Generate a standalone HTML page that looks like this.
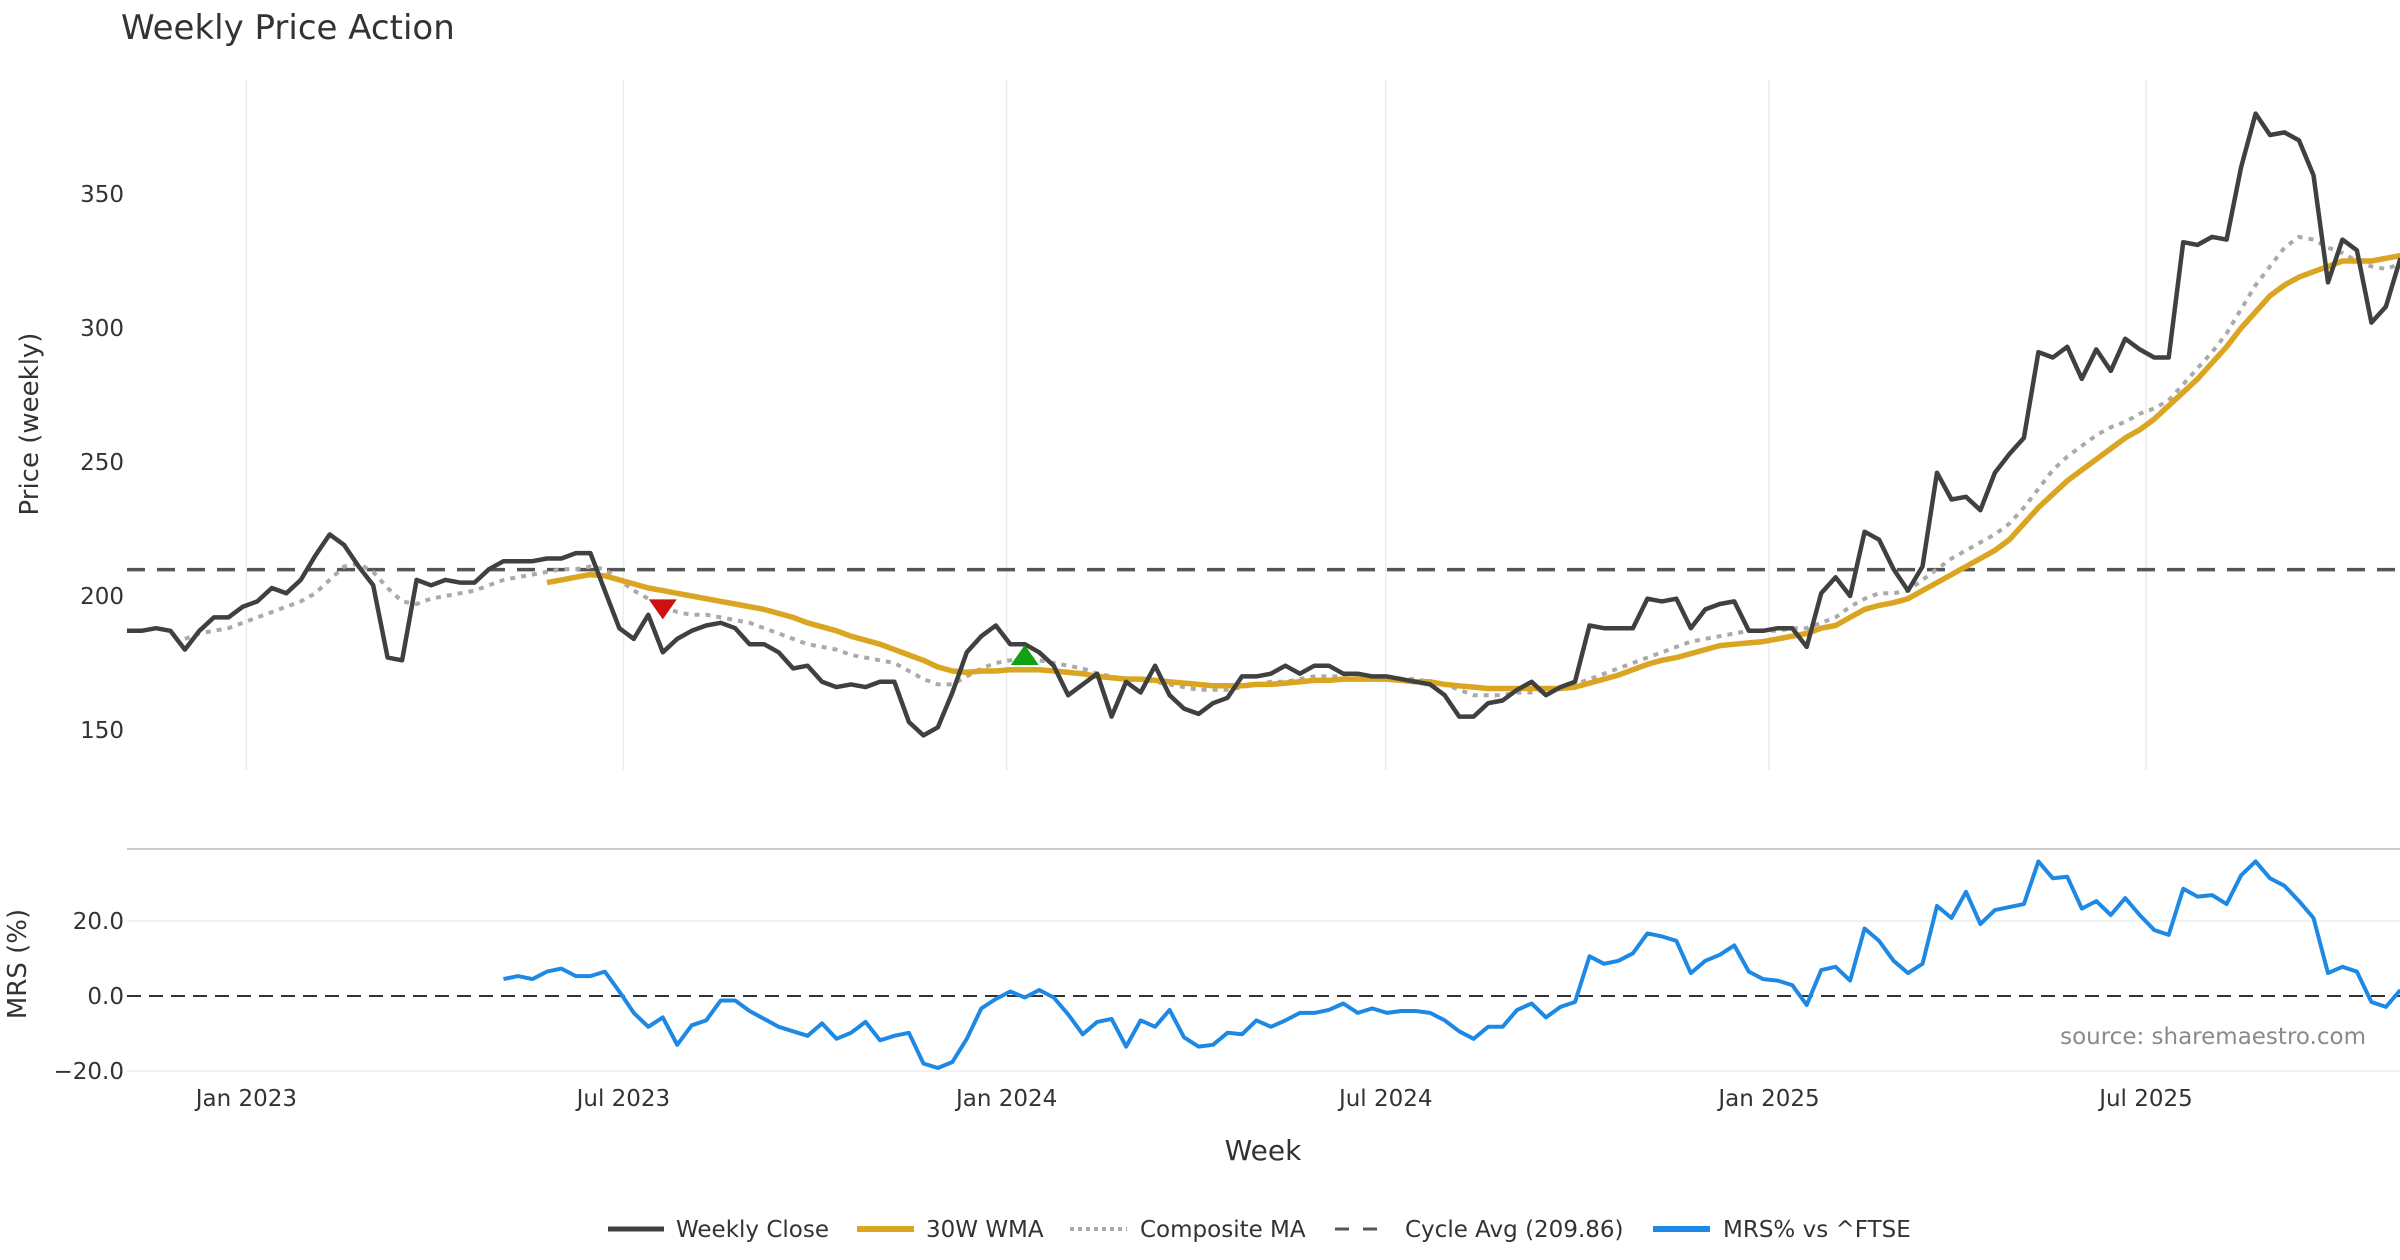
<!DOCTYPE html>
<html><head><meta charset="utf-8"><style>
html,body{margin:0;padding:0;background:#fff;}
svg{display:block;font-family:"DejaVu Sans","Liberation Sans",sans-serif;}
</style></head><body>
<svg id="chart" width="2400" height="1260" viewBox="0 0 2400 1260" xmlns="http://www.w3.org/2000/svg">
<text x="121" y="39" font-size="34" fill="#333">Weekly Price Action</text>
<g id="grid"></g><g id="price"></g><g id="mrs"></g><g id="axes"></g>
<text transform="translate(38,424) rotate(-90)" text-anchor="middle" font-size="26" fill="#333">Price (weekly)</text>
<text transform="translate(26,964) rotate(-90)" text-anchor="middle" font-size="26" fill="#333">MRS (%)</text>
<text x="1263" y="1160" text-anchor="middle" font-size="28" fill="#333">Week</text>
<text x="2366" y="1044" text-anchor="end" font-size="23" fill="#8a8a8a">source: sharemaestro.com</text>
<g id="legend">
 <g><line x1="608" y1="1229" x2="664" y2="1229" stroke="#404040" stroke-width="5"/><text x="676" y="1237" font-size="23" fill="#333">Weekly Close</text></g>
 <g><line x1="857" y1="1229" x2="914" y2="1229" stroke="#DAA520" stroke-width="6"/><text x="926" y="1237" font-size="23" fill="#333">30W WMA</text></g>
 <g><line x1="1070" y1="1229" x2="1127" y2="1229" stroke="#aaa" stroke-width="4" stroke-dasharray="4,4"/><text x="1140" y="1237" font-size="23" fill="#333">Composite MA</text></g>
 <g><line x1="1335" y1="1229" x2="1391" y2="1229" stroke="#555" stroke-width="3" stroke-dasharray="14,14"/><text x="1405" y="1237" font-size="23" fill="#333">Cycle Avg (209.86)</text></g>
 <g><line x1="1653" y1="1229" x2="1710" y2="1229" stroke="#1E88E5" stroke-width="6"/><text x="1723" y="1237" font-size="23" fill="#333">MRS% vs ^FTSE</text></g>
</g>
</svg>
<script>
const close=[187,187,188,187,180,187,192,192,196,198,203,201,206,215,223,219,211,204,177,176,206,204,206,205,205,210,213,213,213,214,214,216,216,202,188,184,193,179,184,187,189,190,188,182,182,179,173,174,168,166,167,166,168,168,153,148,151,164,179,185,189,182,182,179,174,163,167,171,155,168,164,174,163,158,156,160,162,170,170,171,174,171,174,174,171,171,170,170,169,168,167,163,155,155,160,161,165,168,163,166,168,189,188,188,188,199,198,199,188,195,197,198,187,187,188,188,181,201,207,200,224,221,210,202,211,246,236,237,232,246,253,259,291,289,293,281,292,284,296,292,289,289,332,331,334,333,360,380,372,373,370,357,317,333,329,302,308,326];
const wma=[205,206,207,208,207.5,206,204.5,203,202,201,200,199,198,197,196,195,193.5,192,190,188.5,187,185,183.5,182,180,178,176,173.5,172,171.5,172,172,172.5,172.5,172.5,172,171.5,171,170,169.5,169,169,168.5,168,167.5,167,166.5,166.5,166.5,167,167,167.5,168,168.5,168.5,169,169,169,169,168.5,168,168,167,166.5,166,165.5,165.5,165.5,165.5,165.5,165.5,166,167.5,169,170.5,172.5,174.5,176,177,178.5,180,181.5,182,182.5,183,184,185,186,188,189,192,195,196.5,197.5,199,202,205,208,211,214,217,221,227,233,238,243,247,251,255,259,262,266,271,276,281,287,293,300,306,312,316,319,321,323,325,325,325,326,327];
const composite=[184,186,187,188,190,192,194,196,198,201,206,211,212,209,203,198,197,199,200,201,202,204,206,207,208,209,210,210,211,210,206,202,199,196,194,193,193,192,191,190,188,186,184,182,181,180,178,177,176,175,172,169,167,167,170,173,175,176,177,176,175,174,173,171,170,169,169,168,167,166,165,165,165,166,167,168,168,169,170,170,170,170,170,169,169,169,168,167,165,163,163,163,164,164,165,166,167,169,171,173,175,177,179,181,183,184,185,186,187,187,187,188,188,190,192,196,199,201,201,202,206,210,214,217,220,223,227,233,240,247,252,256,260,263,265,268,270,273,279,285,291,298,307,316,323,330,334,333,330,328,325,323,322,324];
const mrs=[4.5,5.3,4.5,6.5,7.3,5.3,5.3,6.5,1.2,-4.5,-8.2,-5.7,-13,-7.8,-6.5,-1.2,-1.2,-4,-6.1,-8.2,-9.4,-10.6,-7.3,-11.4,-9.8,-6.9,-11.8,-10.6,-9.8,-18,-19.2,-17.6,-11.4,-3.3,-0.8,1.2,-0.4,1.6,-0.4,-4.9,-10.2,-6.9,-6.1,-13.5,-6.5,-8.2,-3.7,-11,-13.5,-13,-9.8,-10.2,-6.5,-8.2,-6.5,-4.5,-4.5,-3.7,-2,-4.5,-3.3,-4.5,-4,-4,-4.5,-6.5,-9.4,-11.4,-8.2,-8.2,-3.7,-2,-5.7,-2.9,-1.6,10.6,8.6,9.4,11.4,16.7,15.9,14.7,6.1,9.4,11,13.5,6.5,4.5,4.1,2.9,-2.4,6.9,7.8,4.1,18,14.7,9.4,6.1,8.6,24,20.8,27.8,19.2,22.9,23.7,24.5,35.9,31.4,31.8,23.3,25.3,21.6,26.1,21.6,17.6,16.3,28.6,26.5,26.9,24.5,32.2,35.9,31.4,29.4,25.3,20.8,6.1,7.8,6.5,-1.6,-2.9,1.6];
const cycleAvg=209.86;
const priceTicks=[150,200,250,300,350];
const mrsTicks=[-20,0,20];
const mrsTickLabels=["\u221220.0","0.0","20.0"];
const dateTicks=["2023-01-01","2023-07-01","2024-01-01","2024-07-01","2025-01-01","2025-07-01"];
const dateTickLabels=["Jan 2023","Jul 2023","Jan 2024","Jul 2024","Jan 2025","Jul 2025"];
const sellSignal=[37,195];
const buySignal=[62,178];

const NS="http://www.w3.org/2000/svg";
const X0=127,STEP=14.48;
const N=close.length;
const x=i=>X0+i*STEP;
const yP=v=>730-(v-150)*2.68;
const yM=v=>996-v*3.75;
const DAY0=new Date("2023-01-01");
const xDate=d=>246.4+((new Date(d)-DAY0)/864e5)*(1899.6/912);
function mk(parent,tag,attrs){const e=document.createElementNS(NS,tag);for(const k in attrs)e.setAttribute(k,attrs[k]);document.getElementById(parent).appendChild(e);return e;}
function pts(arr,off,yf){return arr.map((v,k)=>x(k+off).toFixed(1)+","+yf(v).toFixed(1)).join(" ");}

dateTicks.forEach((d,k)=>{const xx=xDate(d);
 let g=mk("grid","line",{x1:xx,x2:xx,y1:80,y2:770,stroke:"#e8ecef","stroke-width":1.5});
 
 
 let t=mk("axes","text",{x:xx,y:1106,"text-anchor":"middle","font-size":23,fill:"#333"});t.textContent=dateTickLabels[k];
 
 
});
priceTicks.forEach(v=>{let t=mk("axes","text",{x:124,y:yP(v)+8,"text-anchor":"end","font-size":23,fill:"#333"});t.textContent=v;
 
 });
let sep=mk("grid","line",{x1:127,x2:2400,y1:849,y2:849,stroke:"#ccc","stroke-width":2});


mrsTicks.forEach((v,k)=>{
 if(v!==0){let g=mk("grid","line",{x1:127,x2:2400,y1:yM(v),y2:yM(v),stroke:"#eceff1","stroke-width":1.5});
 
 }
 let t=mk("axes","text",{x:124,y:yM(v)+8,"text-anchor":"end","font-size":23,fill:"#333"});t.textContent=mrsTickLabels[k];
 
 
});
let z=mk("mrs","line",{x1:127,x2:2400,y1:yM(0),y2:yM(0),stroke:"#333","stroke-width":2,"stroke-dasharray":"14,8"});



let ca=mk("price","line",{x1:127,x2:2400,y1:yP(cycleAvg),y2:yP(cycleAvg),stroke:"#555","stroke-width":3.5,"stroke-dasharray":"18,12"});


let cm=mk("price","polyline",{points:pts(composite,N-composite.length,yP),fill:"none",stroke:"#aaa","stroke-width":4,"stroke-dasharray":"5,6"});


let wl=mk("price","polyline",{points:pts(wma,N-wma.length,yP),fill:"none",stroke:"#DAA520","stroke-width":5.5,"stroke-linejoin":"round"});


let cl=mk("price","polyline",{points:pts(close,0,yP),fill:"none",stroke:"#404040","stroke-width":4.5,"stroke-linejoin":"round"});


{const sx=x(sellSignal[0]),sy=yP(sellSignal[1]);
 let s=mk("price","polygon",{points:`${sx-14},${sy-10} ${sx+14},${sy-10} ${sx},${sy+10}`,fill:"#CC1111"});
 
 
 const bx=x(buySignal[0]),by=yP(buySignal[1]);
 let b=mk("price","polygon",{points:`${bx-14},${by+10} ${bx+14},${by+10} ${bx},${by-10}`,fill:"#11A011"});
 
 }
let ml=mk("mrs","polyline",{points:pts(mrs,N-mrs.length,yM),fill:"none",stroke:"#1E88E5","stroke-width":4,"stroke-linejoin":"round"});


</script>
</body></html>
